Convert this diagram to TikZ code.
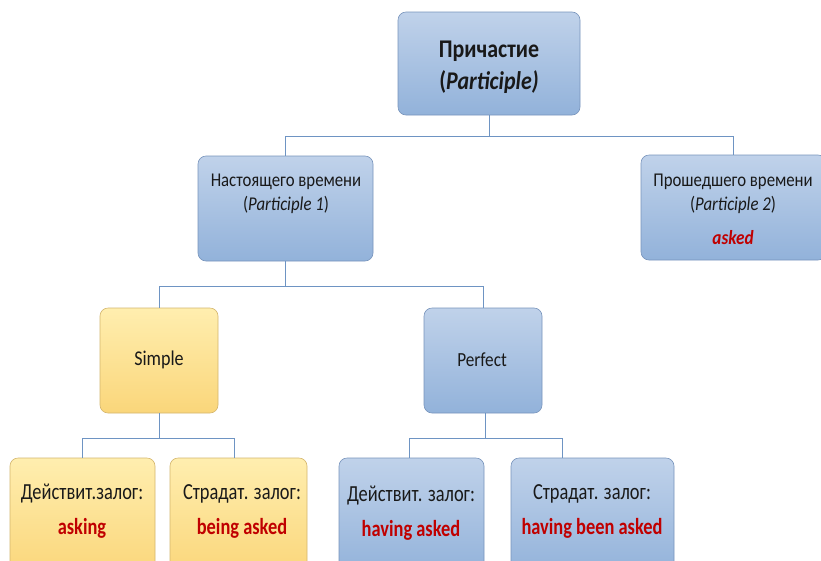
\documentclass[tikz,border=0pt]{standalone}
\usepackage{fontspec}
\setmainfont{Carlito}[FakeStretch=0.86]
\newfontfamily\narrowf{Carlito}[FakeStretch=0.8]
\usetikzlibrary{calc}
\definecolor{bluetop}{RGB}{192,210,234}
\definecolor{bluebot}{RGB}{146,178,218}
\definecolor{blueborder}{RGB}{120,148,188}
\definecolor{yeltop}{RGB}{255,238,175}
\definecolor{yelbot}{RGB}{250,214,122}
\definecolor{yelborder}{RGB}{212,182,110}
\definecolor{conn}{RGB}{110,148,195}
\definecolor{ansred}{RGB}{192,0,0}
\definecolor{txt}{RGB}{25,25,25}
\tikzset{
  boxbase/.style={rounded corners=8pt, line width=0.6pt, inner sep=0pt},
  bluebox/.style={boxbase, draw=blueborder, top color=bluetop, bottom color=bluebot},
  yelbox/.style={boxbase, draw=yelborder, top color=yeltop, bottom color=yelbot},
  connline/.style={draw=conn, line width=0.9pt},
  lbl/.style={text=txt, align=center, inner sep=0pt},
  midtxt/.style={lbl, font=\fontsize{19.5}{24}\selectfont},
  bottxt/.style={lbl, font=\narrowf\fontsize{23}{26}\selectfont},
  redtxt/.style={inner sep=0pt, text=ansred, font=\narrowf\fontsize{23}{26}\selectfont\bfseries}
}
\begin{document}
\begin{tikzpicture}[x=1pt,y=-1pt]
\useasboundingbox (0,0) rectangle (821,560);
\clip (0,0) rectangle (821,560);
\fill[white] (0,0) rectangle (821,560);

% boxes
\node[bluebox, minimum width=182pt, minimum height=103pt] (top) at (489,63.5) {};
\node[bluebox, minimum width=175pt, minimum height=105pt] (n1) at (285.5,208.5) {};
\node[bluebox, minimum width=185pt, minimum height=105pt] (n2) at (733.5,207.5) {};
\node[yelbox, minimum width=118pt, minimum height=105pt] (simple) at (159,360.5) {};
\node[bluebox, minimum width=118pt, minimum height=105pt] (perfect) at (483,360.5) {};
\node[yelbox, minimum width=145pt, minimum height=117pt] (b1) at (82.5,516.5) {};
\node[yelbox, minimum width=137pt, minimum height=117pt] (b2) at (238.5,516.5) {};
\node[bluebox, minimum width=145pt, minimum height=117pt] (b3) at (411.5,516.5) {};
\node[bluebox, minimum width=163pt, minimum height=117pt] (b4) at (592.5,516.5) {};

% connectors
\coordinate (j0) at ($(top.south)+(0,21)$);
\draw[connline] (top.south) -- (j0) -| (n1.north);
\draw[connline] (j0) -| (n2.north);
\coordinate (j1) at ($(n1.south)+(0,25)$);
\draw[connline] (n1.south) -- (j1) -| (simple.north);
\draw[connline] (j1) -| (perfect.north);
\coordinate (j2) at ($(simple.south)+(0,25)$);
\draw[connline] (simple.south) -- (j2) -| (b1.north);
\draw[connline] (j2) -| ([xshift=-4pt]b2.north);
\coordinate (j3) at ($(perfect.south)+(2,25)$);
\draw[connline] ([xshift=2pt]perfect.south) -- (j3) -| ([xshift=-2pt]b3.north);
\draw[connline] (j3) -| ([xshift=-30pt]b4.north);

% texts
\node[lbl, font=\fontsize{25.5}{32}\selectfont\bfseries] (ttop) at (489,67) {Причастие\\(\textit{Participle)}};
\node[midtxt] (tn1) at (286,194) {Настоящего времени\\(\textit{Participle 1})};
\node[midtxt] (tn2) at (733,194) {Прошедшего времени\\(\textit{Participle 2})};
\node[redtxt, font=\fontsize{20}{22}\selectfont\bfseries\itshape] (tn2r) at (733,238) {asked};
\node[lbl, font=\fontsize{21}{24}\selectfont] (tsimple) at (159,360) {Simple};
\node[lbl, font=\fontsize{20}{24}\selectfont] (tperfect) at (482,360) {Perfect};
\node[bottxt] (tb1) at (82,494) {Действит.залог:};
\node[redtxt] (tb1r) at (82,528) {asking};
\node[bottxt] (tb2) at (242,494) {Страдат. залог:};
\node[redtxt] (tb2r) at (242,528) {being asked};
\node[bottxt] (tb3) at (411,496) {Действит. залог:};
\node[redtxt] (tb3r) at (411,530) {having asked};
\node[bottxt] (tb4) at (592,494) {Страдат. залог:};
\node[redtxt] (tb4r) at (592,528) {having been asked};
\end{tikzpicture}
\end{document}
